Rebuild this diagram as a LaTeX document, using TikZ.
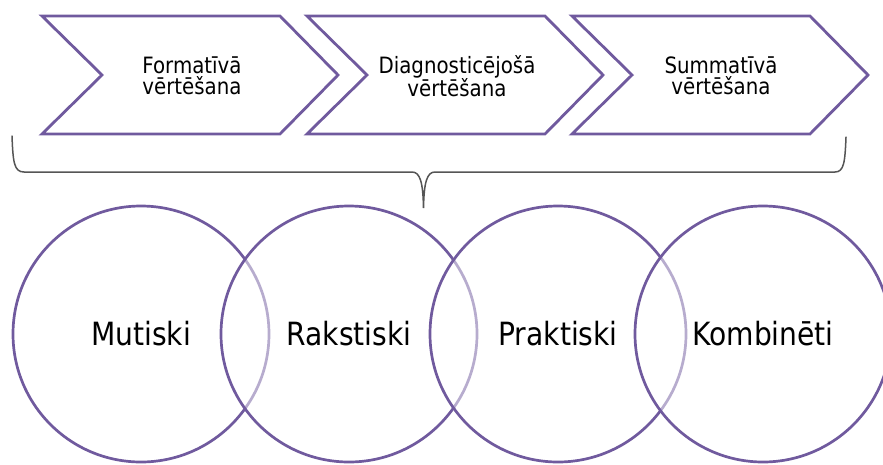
\documentclass[tikz,border=0pt]{standalone}
\usepackage{fontspec}
\setmainfont{DejaVu Sans}[FakeStretch=0.88]
\definecolor{vio}{RGB}{112,90,158}
\definecolor{bracegray}{RGB}{85,85,85}
\begin{document}
\begin{tikzpicture}[x=1pt,y=-1pt,
  chevline/.style={draw=vio,line width=2.8pt,line join=miter},
  chevtext/.style={align=center,font=\fontsize{22.5}{21}\selectfont,text=black,inner sep=0pt},
  circ/.style={circle,draw=vio,line width=2.7pt,fill=white,fill opacity=0.5,draw opacity=1,text opacity=1,minimum size=256pt,inner sep=0pt,font=\fontsize{32}{36}\selectfont,text=black},
  bracestyle/.style={draw=bracegray,line width=1.5pt,line cap=round},
  chev/.pic={\path[chevline] (0,16) -- (238,16) -- (296,75) -- (238,134) -- (0,134) -- (60,75) -- cycle;}]
\useasboundingbox (0,0) rectangle (883,464);
% chevrons
\pic at (42,0) {chev};
\pic at (307,0) {chev};
\pic at (572,0) {chev};
\node[chevtext] (t1) at (192,76) {Formatīvā\\vērtēšana};
\node[chevtext] (t2) at (457,76) {Diagnosticējošā\\vērtēšana};
\node[chevtext] (t3) at (721,76) {Summatīvā\\vērtēšana};
% brace
\coordinate (bl) at (12,136);
\coordinate (br) at (846,137);
\coordinate (bt) at (423.5,208);
\draw[bracestyle] (bl) .. controls (13,162) and (14,172) .. (24,172) -- (412,172)
  .. controls (420,172) and (423,182) .. (bt)
  .. controls (424,182) and (427,172) .. (435,172) -- (835,172)
  .. controls (844,172) and (845,162) .. (br);
% circles
\node[circ] (c1) at (141,334) {Mutiski};
\node[circ] (c2) at (349,334) {Rakstiski};
\node[circ] (c3) at (558,334) {Praktiski};
\node[circ] (c4) at (763,334) {Kombinēti};
\end{tikzpicture}
\end{document}
